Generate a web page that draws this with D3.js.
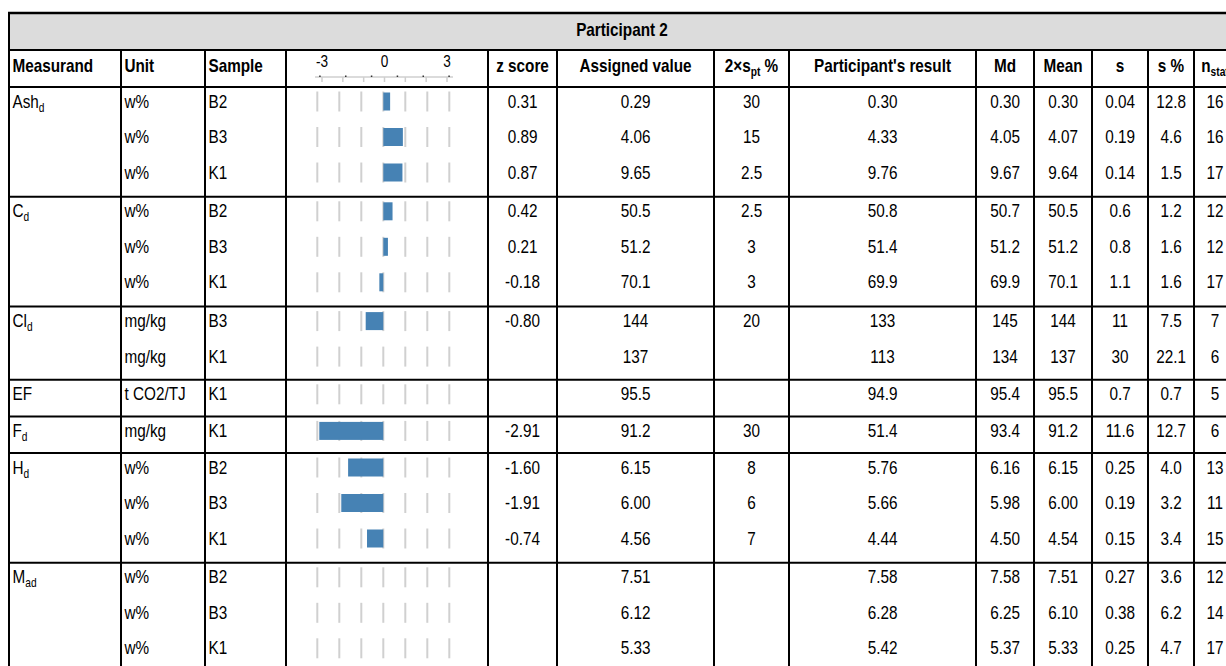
<!DOCTYPE html>
<html><head><meta charset="utf-8">
<script src="https://cdn.jsdelivr.net/npm/d3@7"></script>
<style>html,body{margin:0;padding:0;background:#fff;overflow:hidden}</style>
</head><body><svg id="c" width="1226" height="666"></svg>
<script>
// ---------- data ----------
const title = "Participant 2";
const measurandNames = [["Ash","d"],["C","d"],["Cl","d"],["EF",""],["F","d"],["H","d"],["M","ad"]];
const measurandRows = [3,3,2,1,1,3,3];
const units   = ["w%","w%","w%","w%","w%","w%","mg/kg","mg/kg","t CO2/TJ","mg/kg","w%","w%","w%","w%","w%","w%"];
const samples = ["B2","B3","K1","B2","B3","K1","B3","K1","K1","K1","B2","B3","K1","B2","B3","K1"];
const zScores = [0.31,0.89,0.87,0.42,0.21,-0.18,-0.80,null,null,-2.91,-1.60,-1.91,-0.74,null,null,null];
const assigned = ["0.29","4.06","9.65","50.5","51.2","70.1","144","137","95.5","91.2","6.15","6.00","4.56","7.51","6.12","5.33"];
const sptPct   = ["30","15","2.5","2.5","3","3","20","","","30","8","6","7","","",""];
const results  = ["0.30","4.33","9.76","50.8","51.4","69.9","133","113","94.9","51.4","5.76","5.66","4.44","7.58","6.28","5.42"];
const medians  = ["0.30","4.05","9.67","50.7","51.2","69.9","145","134","95.4","93.4","6.16","5.98","4.50","7.58","6.25","5.37"];
const means    = ["0.30","4.07","9.64","50.5","51.2","70.1","144","137","95.5","91.2","6.15","6.00","4.54","7.51","6.10","5.33"];
const sds      = ["0.04","0.19","0.14","0.6","0.8","1.1","11","30","0.7","11.6","0.25","0.19","0.15","0.27","0.38","0.25"];
const sdPcts   = ["12.8","4.6","1.5","1.2","1.6","1.6","7.5","22.1","0.7","12.7","4.0","3.2","3.4","3.6","6.2","4.7"];
const nStats   = ["16","16","17","12","12","17","7","6","5","6","13","11","15","12","14","17"];
const zTicks = [-3,-2,-1,0,1,2,3];
const zTickLabels = [-3,0,3];
const zAxisDots = [-3.1,-1.86,-0.62,0.62,1.86,3.1];
const headers = [
  [{t:"Measurand"}],[{t:"Unit"}],[{t:"Sample"}],null,[{t:"z score"}],[{t:"Assigned value"}],
  [{t:"2×s"},{t:"pt",sub:1},{t:" %"}],[{t:"Participant's result"}],[{t:"Md"}],[{t:"Mean"}],
  [{t:"s"}],[{t:"s %"}],[{t:"n"},{t:"stat",sub:1}]
];

// ---------- layout ----------
const colX = [9,121,205,286,488,557,714,789,976,1034,1092,1148,1194,1236];
const align = ["start","start","start",null,"middle","middle","middle","middle","middle","middle","middle","middle","middle"];
const SX = 0.85, FS = 18;
const yTop = 13, yTitleEnd = 50, yHeadEnd = 87;
const rowH = 36.6, rowPitch = 35.5, rowOff = 14.5;

const svg = d3.select("#c");
const font = "'Liberation Sans', Arial, sans-serif";

function label(g, x, y, anchor, parts, bold){
  const t = g.append("text")
    .attr("transform", `translate(${x},${y}) scale(${SX},1)`)
    .attr("text-anchor", anchor)
    .attr("font-family", font)
    .attr("font-size", FS)
    .attr("font-weight", bold ? "bold" : "normal")
    .attr("fill", "#000");
  let shifted = false;
  parts.forEach(p => {
    const s = t.append("tspan").text(p.t);
    if (p.sub && !shifted){ s.attr("font-size", 12).attr("dy", 4); shifted = true; }
    else if (!p.sub && shifted){ s.attr("dy", -4); shifted = false; }
  });
  return t;
}
function cellX(i){ return align[i]==="start" ? colX[i]+3.5 : (colX[i]+colX[i+1])/2; }

// z scales (bars in rows, mini axis in header)
const z = d3.scaleLinear().domain([-3,3]).range([317.3,449.3]);
const zHead = d3.scaleLinear().domain([-3,3]).range([322,447]);

// title band
svg.append("rect").attr("x",colX[0]).attr("y",yTop).attr("width",1300).attr("height",yTitleEnd-yTop).attr("fill","#dcdcdc");
label(svg, 622, 36, "middle", [{t:title}], true);

// header
headers.forEach((h,i)=>{ if(h) label(svg, cellX(i), 72, align[i], h, true); });
// mini axis in header
const ax = svg.append("g");
ax.append("line").attr("x1",315).attr("x2",453).attr("y1",77).attr("y2",77).attr("stroke","#cfcfcf").attr("stroke-width",1.5);
ax.selectAll("line.t").data(zTicks).join("line").attr("class","t")
  .attr("x1",d=>zHead(d)).attr("x2",d=>zHead(d)).attr("y1",77).attr("y2",82).attr("stroke","#cfcfcf").attr("stroke-width",1.5);
ax.selectAll("rect.d").data(zAxisDots).join("rect").attr("class","d")
  .attr("x",d=>zHead(d)-0.75).attr("y",75.5).attr("width",1.5).attr("height",1.5).attr("fill","#333");
zTickLabels.forEach(v=>{
  ax.append("text").attr("transform",`translate(${zHead(v)},67) scale(${SX},1)`)
    .attr("text-anchor","middle").attr("font-family",font).attr("font-size",16).text(v);
});

// rows
const groupTops = [];
let y = yHeadEnd;
const rowCenters = [];
measurandRows.forEach((n)=>{
  groupTops.push(y);
  for(let k=0;k<n;k++){ rowCenters.push(y + rowOff + rowPitch*k); }
  y += n*rowH;
});
const groupEnds = measurandRows.map((n,i)=>groupTops[i]+n*rowH);

// measurand labels
measurandNames.forEach((m,gi)=>{
  const c = groupTops[gi] + rowOff;
  const parts = [{t:m[0]}]; if(m[1]) parts.push({t:m[1],sub:1});
  label(svg, cellX(0), c+6, "start", parts, false);
});

const textCols = [null, units, samples, null, zScores.map(v=>v==null?"":v.toFixed(2)), assigned, sptPct, results, medians, means, sds, sdPcts, nStats];
rowCenters.forEach((c,ri)=>{
  textCols.forEach((arr,ci)=>{
    if(!arr) return;
    const s = arr[ri]; if(s==="") return;
    label(svg, cellX(ci), c+6, align[ci], [{t:s}], false);
  });
});

// gray tick marks and bars
const bg = svg.append("g");
rowCenters.forEach((c)=>{
  bg.selectAll(null).data(zTicks).join("line")
    .attr("x1",d=>z(d)).attr("x2",d=>z(d)).attr("y1",c-10).attr("y2",c+10)
    .attr("stroke","#d0d0d0").attr("stroke-width",2);
});
bg.selectAll("rect.bar").data(zScores.map((v,i)=>({v,c:rowCenters[i]})).filter(d=>d.v!=null)).join("rect")
  .attr("class","bar")
  .attr("x",d=>Math.min(z(0),z(d.v))).attr("width",d=>Math.abs(z(d.v)-z(0)))
  .attr("y",d=>d.c-9).attr("height",18).attr("fill","#4682b4");

// grid lines
const gl = svg.append("g").attr("stroke","#000").attr("stroke-width",2);
gl.append("line").attr("x1",colX[0]-1).attr("x2",1300).attr("y1",yTop).attr("y2",yTop).attr("stroke-width",2.5);
[yTitleEnd, yHeadEnd, ...groupEnds].forEach(yy=>{
  gl.append("line").attr("x1",colX[0]).attr("x2",1300).attr("y1",yy).attr("y2",yy);
});
gl.append("line").attr("x1",colX[0]).attr("x2",colX[0]).attr("y1",yTop).attr("y2",700);
colX.slice(1).forEach(x=>{
  gl.append("line").attr("x1",x).attr("x2",x).attr("y1",yTitleEnd).attr("y2",700);
});
</script></body></html>
